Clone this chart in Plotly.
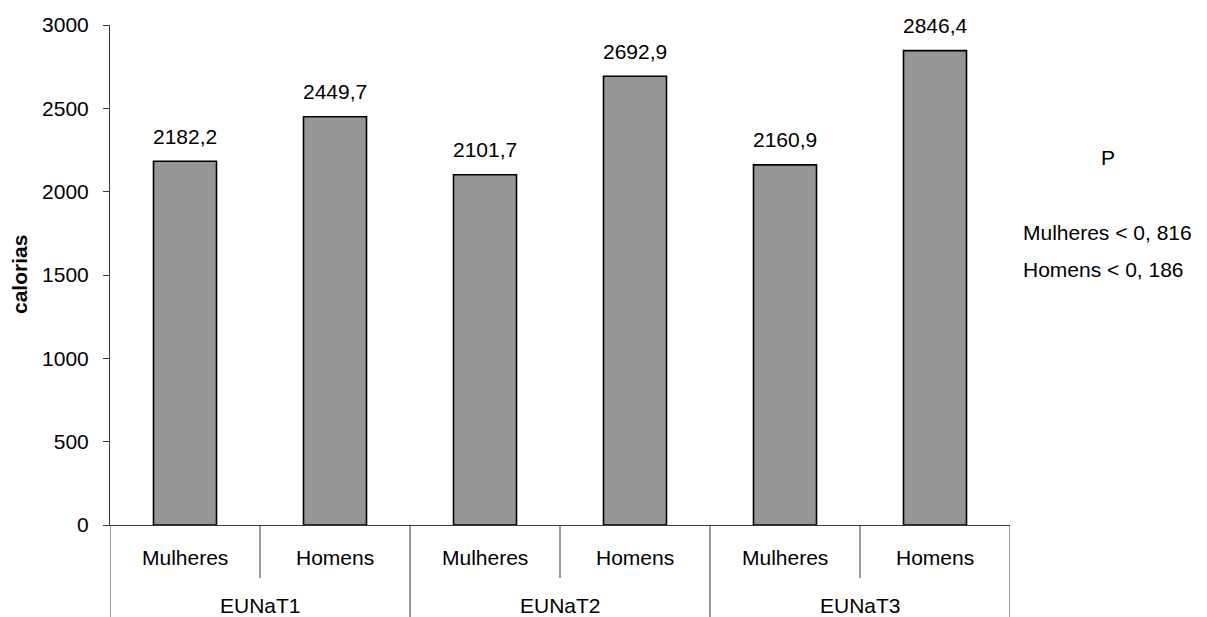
import plotly.graph_objects as go

# Energy intake (calories) by survey round and sex
groups = ["EUNaT1", "EUNaT2", "EUNaT3"]
sexes = ["Mulheres", "Homens"]
calorias = [2182.2, 2449.7, 2101.7, 2692.9, 2160.9, 2846.4]
value_labels = ["2182,2", "2449,7", "2101,7", "2692,9", "2160,9", "2846,4"]
y_ticks = [0, 500, 1000, 1500, 2000, 2500, 3000]
p_title = "P"
p_lines = ["Mulheres < 0, 816", "Homens < 0, 186"]

FONT = "Liberation Sans, Arial, sans-serif"
FS = 21
LINE = "#3a3a3a"

n_sex = len(sexes)
positions = list(range(len(groups) * n_sex))
inner_labels = [s for _ in groups for s in sexes]

fig = go.Figure()
fig.add_trace(go.Bar(
    x=positions,
    y=calorias,
    width=0.42,
    marker=dict(color="#969696", line=dict(color="black", width=1.6)),
    hoverinfo="skip",
))

annotations = []
# value labels above each bar
for xp, v, t in zip(positions, calorias, value_labels):
    annotations.append(dict(x=xp, y=v, xref="x", yref="y", text=t, showarrow=False,
                            yanchor="middle", yshift=25, font=dict(size=FS)))
# inner category row
for xp, t in zip(positions, inner_labels):
    annotations.append(dict(x=xp, y=0, xref="x", yref="paper", text=t, showarrow=False,
                            yanchor="middle", yshift=-32, font=dict(size=FS)))
# outer group row
for gi, g in enumerate(groups):
    annotations.append(dict(x=gi * n_sex + (n_sex - 1) / 2, y=0, xref="x", yref="paper",
                            text=g, showarrow=False, yanchor="middle", yshift=-80,
                            font=dict(size=FS)))
# y-axis title
annotations.append(dict(x=0, y=0.5, xref="paper", yref="paper", text="<b>calorias</b>",
                        showarrow=False, textangle=-90, xanchor="center", yanchor="middle",
                        xshift=-91, font=dict(size=FS)))
# P-value block on the right
annotations.append(dict(x=1.109, y=0.736, xref="paper", yref="paper", text=p_title,
                        showarrow=False, xanchor="center", yanchor="middle", font=dict(size=FS)))
for yy, t in zip([0.586, 0.512], p_lines):
    annotations.append(dict(x=1.0122, y=yy, xref="paper", yref="paper", text=t,
                            showarrow=False, xanchor="left", yanchor="middle",
                            font=dict(size=FS)))

shapes = []
# short separators between sexes within a group
for gi in range(len(groups)):
    xs = gi * n_sex + 0.5
    shapes.append(dict(type="line", xref="x", yref="paper", ysizemode="pixel", yanchor=0,
                       x0=xs, x1=xs, y0=0, y1=-53, line=dict(color=LINE, width=1)))
# long separators between groups
for gi in range(len(groups) + 1):
    xs = gi * n_sex - 0.5
    shapes.append(dict(type="line", xref="x", yref="paper", ysizemode="pixel", yanchor=0,
                       x0=xs, x1=xs, y0=0, y1=-95, line=dict(color=LINE, width=1)))

fig.update_layout(
    width=1207, height=617,
    margin=dict(l=110, r=197, t=25, b=92),
    paper_bgcolor="white", plot_bgcolor="white",
    font=dict(family=FONT, size=FS, color="black"),
    showlegend=False,
    annotations=annotations,
    shapes=shapes,
    xaxis=dict(range=[-0.5, len(positions) - 0.5], showticklabels=False, showgrid=False,
               zeroline=False, showline=True, linecolor=LINE, linewidth=1, ticks=""),
    yaxis=dict(range=[0, 3000], tickvals=y_ticks, showgrid=False, zeroline=False,
               showline=True, linecolor=LINE, linewidth=1, ticks="outside", ticklen=6,
               tickcolor=LINE, ticklabelstandoff=10, tickfont=dict(size=FS)),
)

fig.write_html("out.html")
